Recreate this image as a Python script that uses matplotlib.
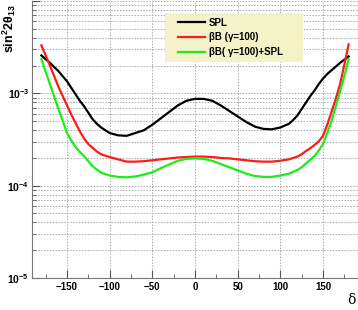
import numpy as np
import matplotlib
matplotlib.use("Agg")
import matplotlib.pyplot as plt
from matplotlib.patches import Rectangle
from matplotlib.ticker import FixedLocator, FuncFormatter, LogLocator, NullFormatter

plt.rcParams['font.family'] = ['Liberation Sans', 'DejaVu Sans']
plt.rcParams['mathtext.fontset'] = 'custom'
plt.rcParams['mathtext.rm'] = 'Liberation Sans'
plt.rcParams['mathtext.bf'] = 'Liberation Sans:bold'
plt.rcParams['mathtext.it'] = 'Liberation Sans:italic'

# delta (deg)
delta = [-180, -175, -170, -165, -160, -155, -150, -145, -140, -135, -130, -125, -120,
         -115, -110, -100, -90, -80, -70, -60, -50, -40, -30, -20, -10, 0, 10, 20,
         30, 40, 50, 60, 70, 80, 90, 100, 110, 115, 120, 125, 130, 135, 140, 145,
         150, 155, 160, 165, 170, 175, 180]

# log10(sin^2 2theta13)
spl_log = [-2.59, -2.63, -2.67, -2.715, -2.76, -2.815, -2.87, -2.94, -3.01, -3.08, -3.14,
           -3.21, -3.28, -3.33, -3.37, -3.43, -3.455, -3.46, -3.43, -3.40, -3.34, -3.27,
           -3.20, -3.13, -3.08, -3.06, -3.06, -3.08, -3.13, -3.19, -3.25, -3.31, -3.36,
           -3.385, -3.39, -3.37, -3.33, -3.29, -3.24, -3.17, -3.10, -3.03, -2.97, -2.90,
           -2.84, -2.79, -2.75, -2.71, -2.67, -2.635, -2.60]
bb_log = [-2.48, -2.59, -2.70, -2.815, -2.93, -3.03, -3.13, -3.23, -3.32, -3.41, -3.49,
          -3.55, -3.59, -3.63, -3.66, -3.69, -3.715, -3.74, -3.74, -3.735, -3.725,
          -3.715, -3.705, -3.695, -3.69, -3.685, -3.685, -3.69, -3.70, -3.705, -3.715,
          -3.725, -3.735, -3.74, -3.74, -3.73, -3.715, -3.70, -3.685, -3.66, -3.625,
          -3.595, -3.56, -3.52, -3.46, -3.34, -3.20, -3.06, -2.90, -2.69, -2.47]
bb_spl_log = [-2.63, -2.765, -2.90, -3.035, -3.17, -3.30, -3.43, -3.51, -3.58, -3.635,
              -3.68, -3.735, -3.79, -3.825, -3.86, -3.89, -3.905, -3.91, -3.90, -3.88,
              -3.855, -3.81, -3.77, -3.73, -3.71, -3.705, -3.71, -3.73, -3.765, -3.80,
              -3.835, -3.87, -3.895, -3.905, -3.905, -3.89, -3.87, -3.85, -3.83, -3.80,
              -3.76, -3.72, -3.68, -3.62, -3.55, -3.43, -3.30, -3.14, -2.98, -2.81, -2.63]

labels = ['SPL', 'βB (γ=100)', 'βB( γ=100)+SPL']
colors = ['black', '#ff1a1a', '#1aee1a']

fig = plt.figure(figsize=(3.58, 3.10), dpi=100)
ax = fig.add_axes([32/358, 32/310, 326/358, 277/310])

for ys, lab, col in zip([spl_log, bb_log, bb_spl_log], labels, colors):
    ax.plot(delta, 10 ** np.array(ys), color=col, lw=1.6, label=lab)

ax.set_yscale('log')
ax.set_ylim(1e-5, 1e-2)
ax.set_xlim(-191, 191)

ax.xaxis.set_major_locator(FixedLocator([-150, -100, -50, 0, 50, 100, 150]))
ax.xaxis.set_minor_locator(FixedLocator([-175, -125, -75, -25, 25, 75, 125, 175]))
ax.yaxis.set_major_locator(LogLocator(base=10, numticks=10))
ax.yaxis.set_minor_locator(LogLocator(base=10, subs=np.arange(2, 10), numticks=20))
ax.yaxis.set_minor_formatter(NullFormatter())
ax.yaxis.set_major_formatter(FuncFormatter(
    lambda v, p: r'$\mathbf{10^{%d}}$' % int(round(np.log10(v))) if v < 9e-3 else ''))

ax.tick_params(axis='both', which='both', direction='in', colors='#555555',
               labelcolor='black')
ax.tick_params(axis='x', which='major', length=6, labelsize=7, pad=3)
ax.tick_params(axis='x', which='minor', length=3)
ax.tick_params(axis='y', which='major', length=6, labelsize=7.5, pad=2)
ax.tick_params(axis='y', which='minor', length=3)
for t in ax.get_xticklabels():
    t.set_fontweight('bold')

ax.grid(True, axis='x', which='major', ls=(0, (1.5, 1.5)), color='#aaaaaa', lw=0.7)
ax.grid(True, axis='y', which='both', ls=(0, (1.5, 1.5)), color='#aaaaaa', lw=0.7)

ax.spines['top'].set_visible(False)
ax.spines['right'].set_visible(False)
ax.spines['left'].set_color('#777777')
ax.spines['bottom'].set_color('#777777')

# legend box
ax.add_patch(Rectangle((0.408, 0.780), 0.423, 0.177, transform=ax.transAxes,
                       facecolor='#f6f2c8', edgecolor='none', zorder=4))
leg = ax.legend(loc='upper left', bbox_to_anchor=(0.448, 0.940),
                borderaxespad=0, borderpad=0, frameon=False,
                prop={'weight': 'bold', 'size': 7}, handlelength=2.8,
                handletextpad=0.35, labelspacing=0.5)
leg.set_zorder(5)

fig.text(9/358, 1 - 4/310, r'$\mathbf{sin^{2}2\theta_{13}}$', rotation=90,
         ha='center', va='top', fontsize=9)
fig.text(351/358, 1 - 300/310, 'δ', family='DejaVu Serif', fontsize=10,
         ha='center', va='center')

fig.savefig('out.png', dpi=100)
